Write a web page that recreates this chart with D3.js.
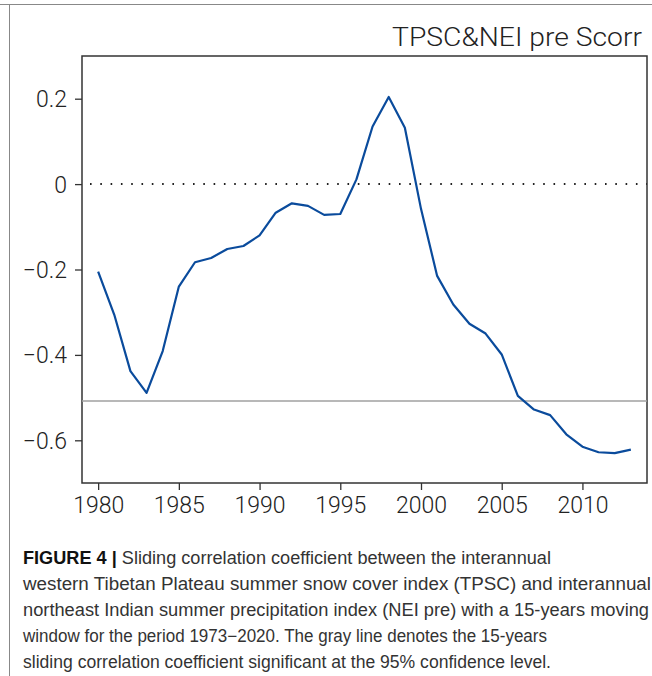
<!DOCTYPE html>
<html>
<head>
<meta charset="utf-8">
<script src="https://cdn.jsdelivr.net/npm/d3@7"></script>
<style>
  body { margin: 0; background: #fff; }
  svg { display: block; }
  .tick-label { font-family: Roboto, "DejaVu Sans Condensed", sans-serif; font-weight: 300; font-size: 23px; fill: #222; }
  .caption { font-family: "Liberation Sans", Arial, sans-serif; font-size: 17.5px; fill: #333; }
</style>
</head>
<body>
<div class="root"></div>
<script>
var years = [1980, 1981, 1982, 1983, 1984, 1985, 1986, 1987, 1988, 1989,
  1990, 1991, 1992, 1993, 1994, 1995, 1996, 1997, 1998, 1999,
  2000, 2001, 2002, 2003, 2004, 2005, 2006, 2007, 2008, 2009,
  2010, 2011, 2012, 2013];
var scorr = [-0.205, -0.306, -0.438, -0.489, -0.391, -0.240, -0.183, -0.173, -0.152, -0.145,
  -0.120, -0.067, -0.045, -0.051, -0.072, -0.070, 0.011, 0.135, 0.204, 0.132,
  -0.058, -0.215, -0.282, -0.327, -0.350, -0.399, -0.496, -0.528, -0.541, -0.586,
  -0.615, -0.628, -0.630, -0.622];
var xTicks = [1980, 1985, 1990, 1995, 2000, 2005, 2010];
var yTicks = [0.2, 0, -0.2, -0.4, -0.6];
var significance = -0.508;
var title = 'TPSC&NEI pre Scorr';
var captionBold = 'FIGURE 4 | ';
var captionLines = [
  'Sliding correlation coefficient between the interannual',
  'western Tibetan Plateau summer snow cover index (TPSC) and interannual',
  'northeast Indian summer precipitation index (NEI pre) with a 15-years moving',
  'window for the period 1973\u22122020. The gray line denotes the 15-years',
  'sliding correlation coefficient significant at the 95% confidence level.'
];

function drawChart() {
  var w = 652;
  var h = 676;
  var left = 82, right = 647, top = 56, bottom = 483;

  var svg = d3.select('.root').append('svg')
    .attr('width', w)
    .attr('height', h);

  // panel border (figure frame)
  svg.append('line')
    .attr('x1', 0).attr('x2', w)
    .attr('y1', 4.5).attr('y2', 4.5)
    .attr('stroke', '#888').attr('stroke-width', 1);
  svg.append('line')
    .attr('x1', 9.5).attr('x2', 9.5)
    .attr('y1', 4.5).attr('y2', h)
    .attr('stroke', '#888').attr('stroke-width', 1);

  var x = d3.scaleLinear().domain([1979, 2014]).range([left, right]);
  var y = d3.scaleLinear().domain([-0.7, 0.3]).range([bottom, top]);

  var fmt = function(d) {
    if (d === 0) return '0';
    return d3.format('.1f')(d).replace('-', '\u2212');
  };

  var xAxis = svg.append('g')
    .attr('transform', 'translate(0,' + bottom + ')')
    .call(d3.axisBottom(x).tickValues(xTicks).tickSize(7).tickFormat(d3.format('d')));
  var yAxis = svg.append('g')
    .attr('transform', 'translate(' + left + ',0)')
    .call(d3.axisLeft(y).tickValues(yTicks).tickSize(7).tickFormat(fmt));

  [xAxis, yAxis].forEach(function(g) {
    g.select('.domain').remove();
    g.selectAll('.tick line').attr('stroke', '#333').attr('stroke-width', 1.3);
    g.selectAll('.tick text').attr('class', 'tick-label');
  });
  xAxis.selectAll('.tick text').attr('dy', null).attr('y', 30);
  yAxis.selectAll('.tick text').attr('x', -15).attr('dy', '0.35em');

  // frame
  svg.append('rect')
    .attr('x', left).attr('y', top)
    .attr('width', right - left).attr('height', bottom - top)
    .attr('fill', 'none')
    .attr('stroke', '#333')
    .attr('stroke-width', 1.5);

  // zero reference
  svg.append('line')
    .attr('x1', x(1979) + 8).attr('x2', right)
    .attr('y1', y(0)).attr('y2', y(0))
    .attr('stroke', '#222')
    .attr('stroke-width', 2)
    .attr('stroke-dasharray', '1.6,8.7');

  // 95% significance
  svg.append('line')
    .attr('x1', left).attr('x2', right)
    .attr('y1', y(significance)).attr('y2', y(significance))
    .attr('stroke', '#a0a0a0')
    .attr('stroke-width', 1.6);

  var line = d3.line()
    .x(function(d, i) { return x(years[i]); })
    .y(function(d) { return y(d); });

  svg.append('path')
    .datum(scorr)
    .attr('d', line)
    .attr('fill', 'none')
    .attr('stroke', '#0a4b9c')
    .attr('stroke-width', 2.2)
    .attr('stroke-linejoin', 'round');

  svg.append('text')
    .attr('class', 'tick-label')
    .attr('x', 642)
    .attr('y', 46)
    .attr('text-anchor', 'end')
    .attr('textLength', 250)
    .attr('lengthAdjust', 'spacingAndGlyphs')
    .style('font-size', '26px')
    .text(title);

  // caption
  var capWidths = [528, 628, 626, 524, 528];
  captionLines.forEach(function(t, i) {
    var txt = svg.append('text')
      .attr('class', 'caption')
      .attr('x', 23)
      .attr('y', 564 + i * 26)
      .attr('textLength', capWidths[i])
      .attr('lengthAdjust', 'spacingAndGlyphs');
    if (i === 0) {
      txt.append('tspan')
        .style('font-weight', 'bold')
        .style('fill', '#111')
        .text(captionBold);
    }
    txt.append('tspan').text(t);
  });
}

window.onload = function() {
  drawChart();
};
</script>
</body>
</html>
